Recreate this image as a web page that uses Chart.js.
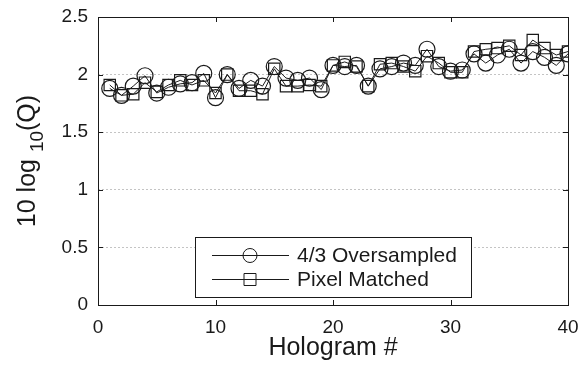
<!DOCTYPE html>
<html>
<head>
<meta charset="utf-8">
<script src="https://cdn.jsdelivr.net/npm/chart.js@4"></script>
<style>
  body { margin: 0; background: #fff; }
  #wrap { width: 581px; height: 371px; }
</style>
</head>
<body>
<div id="wrap"><canvas id="chart" width="581" height="371"></canvas></div>
<script>
const holograms = Array.from({ length: 40 }, (_, i) => i + 1);
const oversampled = [1.88, 1.82, 1.90, 1.99, 1.84, 1.89, 1.92, 1.93, 2.01, 1.80,
                     2.00, 1.88, 1.95, 1.90, 2.07, 1.97, 1.95, 1.97, 1.87, 2.08,
                     2.07, 2.08, 1.90, 2.05, 2.07, 2.10, 2.08, 2.22, 2.07, 2.03,
                     2.04, 2.18, 2.10, 2.17, 2.22, 2.10, 2.20, 2.15, 2.08, 2.18];
const pixelMatched = [1.91, 1.82, 1.83, 1.93, 1.85, 1.91, 1.95, 1.91, 1.95, 1.84,
                      2.00, 1.86, 1.86, 1.83, 2.05, 1.90, 1.90, 1.91, 1.90, 2.08,
                      2.11, 2.07, 1.90, 2.09, 2.10, 2.07, 2.03, 2.16, 2.10, 2.02,
                      2.02, 2.20, 2.22, 2.23, 2.25, 2.17, 2.30, 2.23, 2.17, 2.20];
const xTicks = [0, 10, 20, 30, 40];
const yTicks = [0, 0.5, 1, 1.5, 2, 2.5];
const seriesNames = ["4/3 Oversampled", "Pixel Matched"];

const FONT = "'Liberation Sans', Arial, sans-serif";
const INK = "#1a1a1a";

function toPoints(ys) {
    return holograms.map((x, i) => ({ x: x, y: ys[i] }));
}

// frame, inward ticks, axis titles and the legend box
const decorations = {
    id: "decorations",
    afterDraw(chart) {
        const { ctx, chartArea: a, scales } = chart;
        ctx.save();
        ctx.strokeStyle = INK;
        ctx.lineWidth = 1;
        ctx.strokeRect(a.left + 0.5, a.top + 0.5, a.right - a.left, a.bottom - a.top);

        ctx.beginPath();
        xTicks.forEach(t => {
            const px = Math.round(scales.x.getPixelForValue(t)) + 0.5;
            ctx.moveTo(px, a.bottom); ctx.lineTo(px, a.bottom - 5);
            ctx.moveTo(px, a.top); ctx.lineTo(px, a.top + 5);
        });
        yTicks.forEach(t => {
            const py = Math.round(scales.y.getPixelForValue(t)) + 0.5;
            ctx.moveTo(a.left, py); ctx.lineTo(a.left + 5, py);
            ctx.moveTo(a.right, py); ctx.lineTo(a.right - 5, py);
        });
        ctx.stroke();

        // x title
        ctx.fillStyle = INK;
        ctx.font = "25px " + FONT;
        ctx.textAlign = "center";
        ctx.textBaseline = "alphabetic";
        ctx.fillText("Hologram #", (a.left + a.right) / 2, 355);

        // y title with subscript
        ctx.translate(35, 161);
        ctx.rotate(-Math.PI / 2);
        const big = "25px " + FONT, small = "19px " + FONT;
        ctx.font = big;
        const w1 = ctx.measureText("10 log ").width;
        const w3 = ctx.measureText("(Q)").width;
        ctx.font = small;
        const w2 = ctx.measureText("10").width;
        let x0 = -(w1 + w2 + w3) / 2;
        ctx.textAlign = "left";
        ctx.font = big;
        ctx.fillText("10 log ", x0, 0);
        ctx.font = small;
        ctx.fillText("10", x0 + w1, 8);
        ctx.font = big;
        ctx.fillText("(Q)", x0 + w1 + w2, 0);
        ctx.setTransform(1, 0, 0, 1, 0, 0);

        // legend
        const bx = 195.5, by = 237.5, bw = 276, bh = 60;
        ctx.fillStyle = "#fff";
        ctx.fillRect(bx, by, bw, bh);
        ctx.strokeRect(bx, by, bw, bh);
        ctx.font = "21px " + FONT;
        ctx.textBaseline = "middle";
        ctx.textAlign = "left";
        const rows = [255.5, 279.5];
        rows.forEach((ry, i) => {
            ctx.beginPath();
            ctx.moveTo(212, ry); ctx.lineTo(289, ry);
            ctx.stroke();
            ctx.beginPath();
            if (i === 0) ctx.arc(250, ry, 7, 0, Math.PI * 2);
            else ctx.rect(244, ry - 6, 12, 12);
            ctx.stroke();
            ctx.fillStyle = INK;
            ctx.fillText(seriesNames[i], 297, ry + 1);
        });
        ctx.restore();
    }
};

new Chart(document.getElementById("chart"), {
    type: "scatter",
    data: {
        datasets: [
            { label: seriesNames[0], data: toPoints(oversampled), showLine: true,
              borderColor: INK, borderWidth: 1, backgroundColor: "rgba(0,0,0,0)",
              pointStyle: "circle", pointRadius: 8, pointBorderWidth: 1.2, tension: 0 },
            { label: seriesNames[1], data: toPoints(pixelMatched), showLine: true,
              borderColor: INK, borderWidth: 1, backgroundColor: "rgba(0,0,0,0)",
              pointStyle: "rect", pointRadius: 8, pointBorderWidth: 1.2, tension: 0 }
        ]
    },
    options: {
        responsive: false,
        animation: false,
        layout: { padding: { left: 0, top: 17, right: 13, bottom: 0 } },
        plugins: { legend: { display: false }, tooltip: { enabled: false } },
        scales: {
            x: {
                type: "linear", min: 0, max: 40,
                afterFit: s => { s.height = 66; s.paddingLeft = 0; s.paddingRight = 0; },
                afterBuildTicks: s => { s.ticks = xTicks.map(v => ({ value: v })); },
                grid: { display: false, drawTicks: false },
                border: { display: false },
                ticks: { color: INK, font: { family: FONT, size: 19 }, padding: 11, maxRotation: 0,
                         callback: v => String(v) }
            },
            y: {
                min: 0, max: 2.5,
                afterFit: s => { s.width = 98; s.paddingTop = 0; s.paddingBottom = 0; },
                afterBuildTicks: s => { s.ticks = yTicks.map(v => ({ value: v })); },
                grid: {
                    drawTicks: false,
                    color: c => (c.tick && c.tick.value > 0 && c.tick.value < 2.5) ? "#c4c4c4" : "rgba(0,0,0,0)",
                    lineWidth: 1
                },
                border: { display: false, dash: [2, 2] },
                ticks: { color: INK, font: { family: FONT, size: 19 }, padding: 10,
                         callback: v => String(v) }
            }
        }
    },
    plugins: [decorations]
});
</script>
</body>
</html>
